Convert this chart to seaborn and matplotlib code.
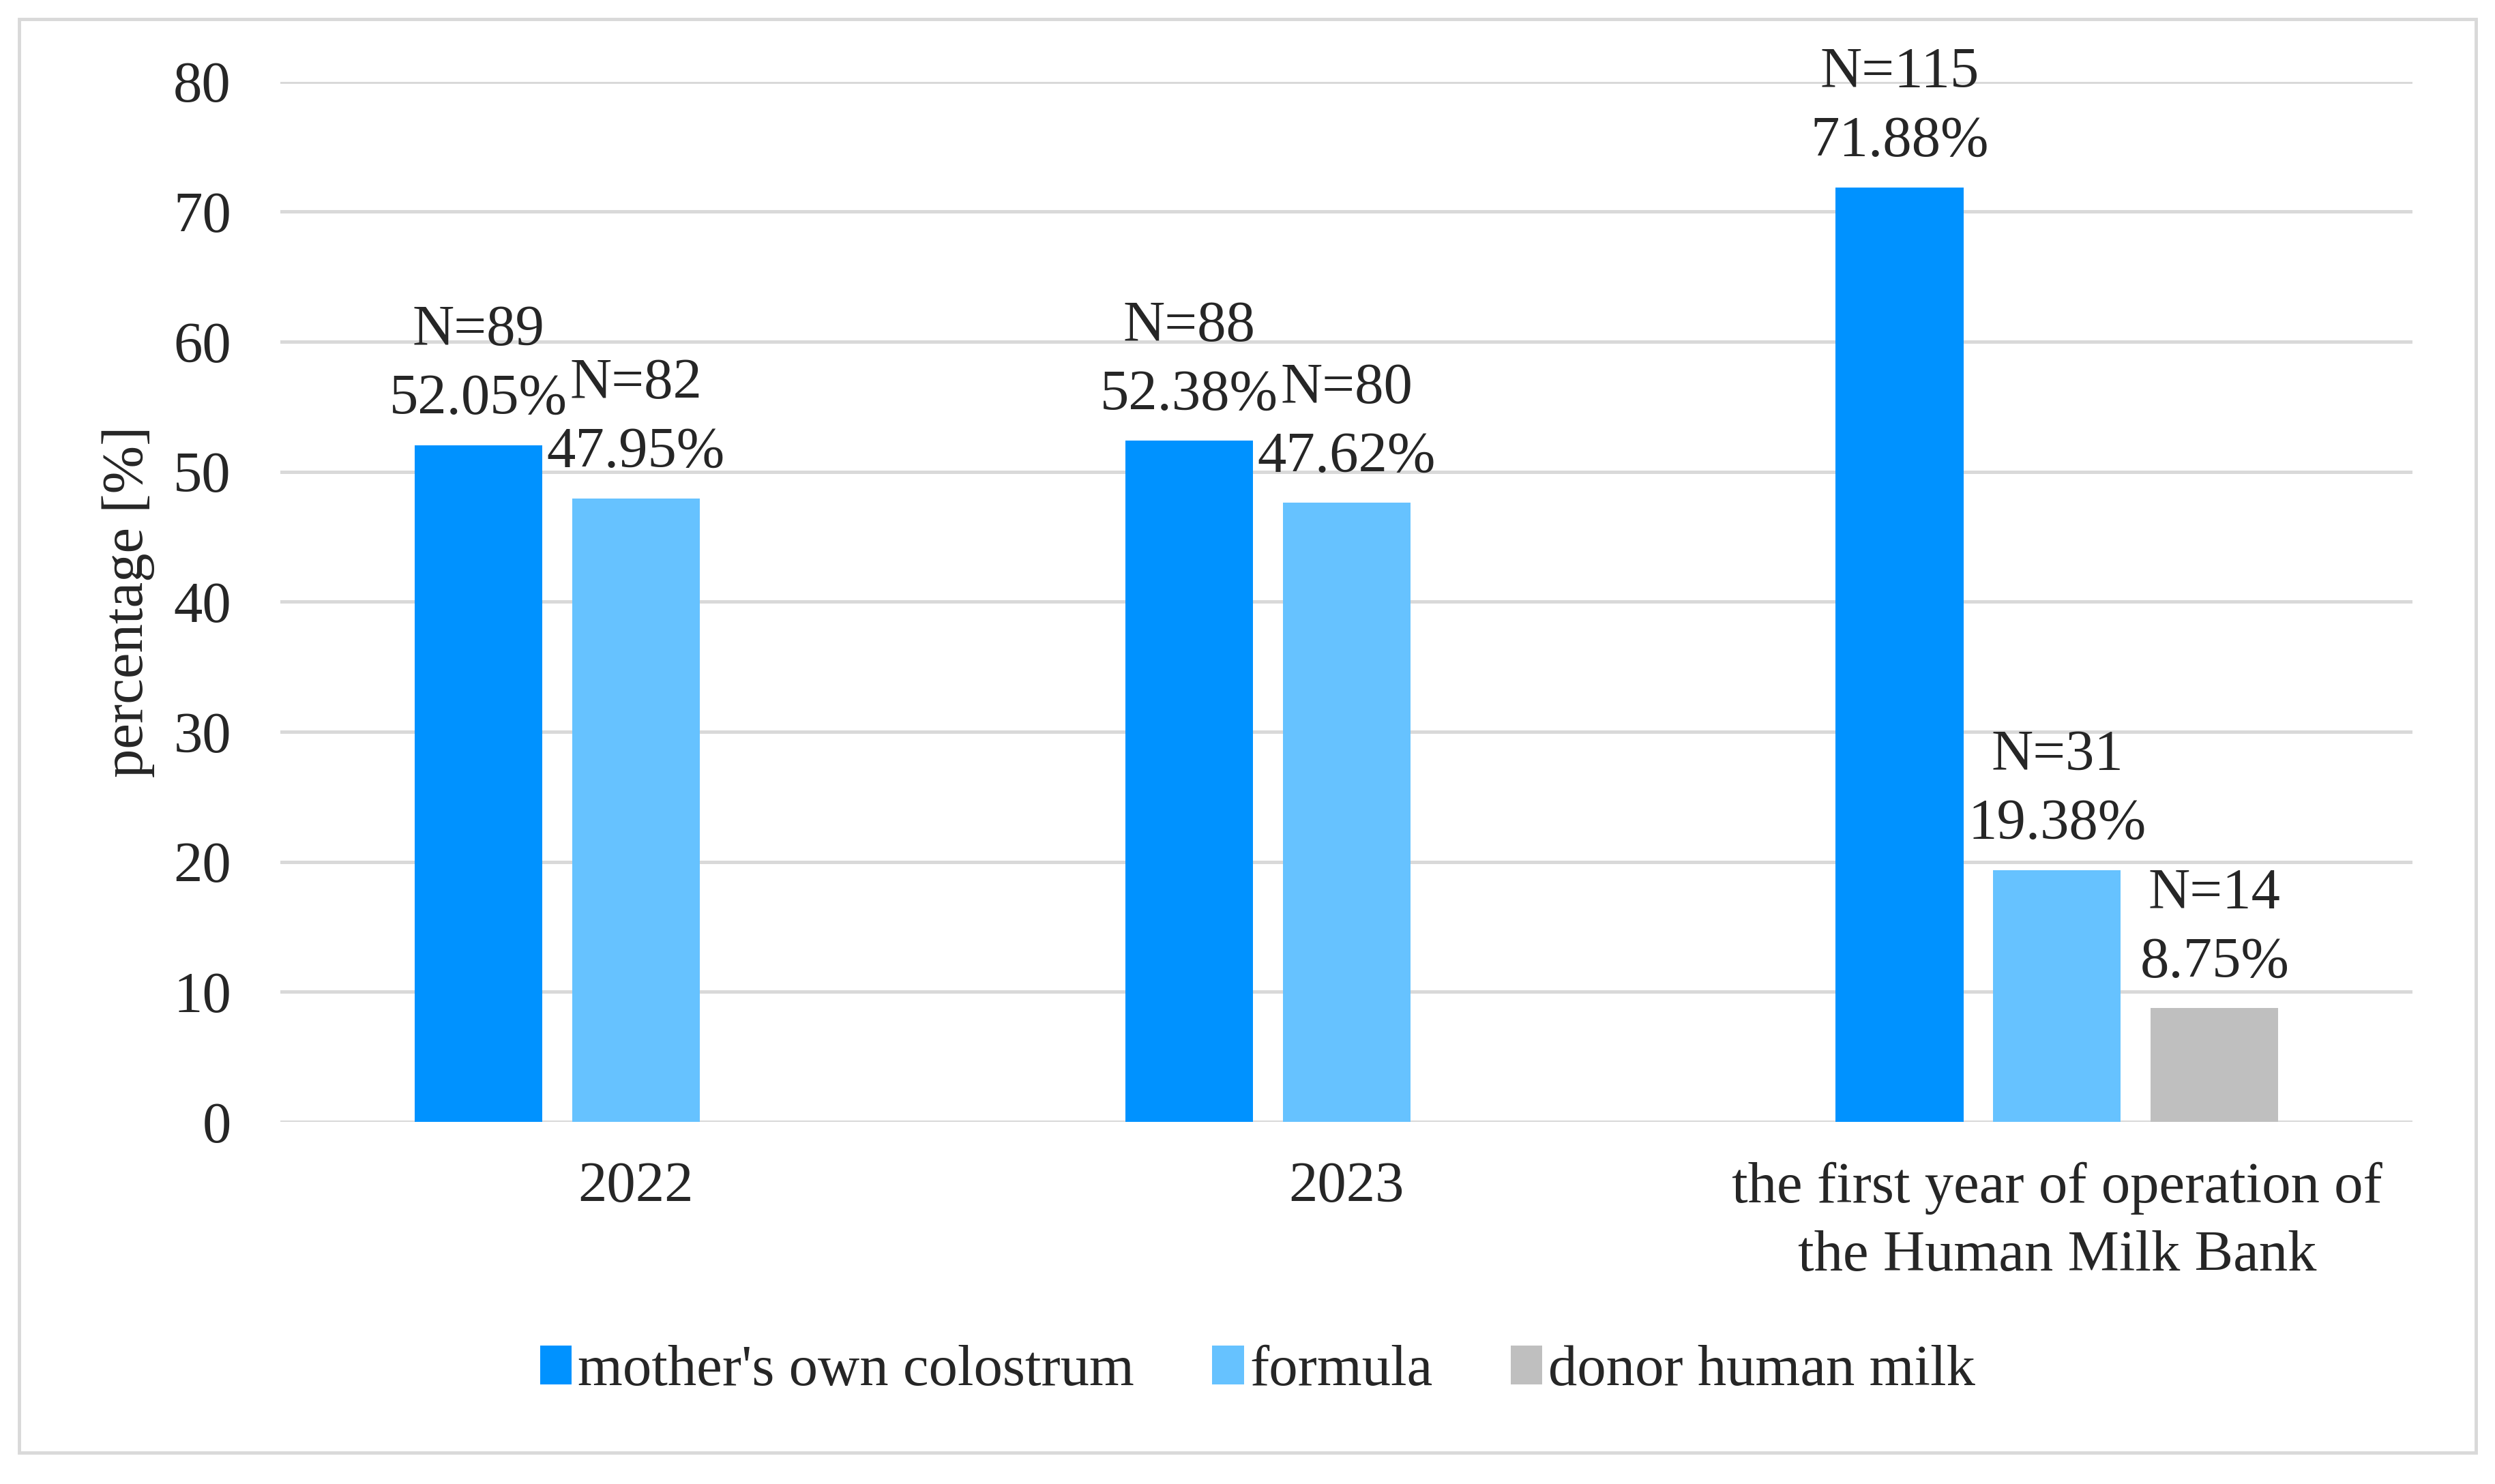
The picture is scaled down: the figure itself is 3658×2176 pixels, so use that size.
import pandas as pd
import seaborn as sns
import matplotlib.pyplot as plt
from matplotlib.patches import Rectangle

# data
periods = ["2022", "2023", "the first year of operation of\nthe Human Milk Bank"]
sources = ["mother's own colostrum", "formula", "donor human milk"]
colostrum_pct = [52.05, 52.38, 71.88]
colostrum_n = [89, 88, 115]
formula_pct = [47.95, 47.62, 19.38]
formula_n = [82, 80, 31]
donor_pct = [None, None, 8.75]
donor_n = [None, None, 14]

colors = ["#0092FF", "#66C2FF", "#BFBFBF"]

rows = []
for src, pcts, ns in zip(sources, [colostrum_pct, formula_pct, donor_pct],
                         [colostrum_n, formula_n, donor_n]):
    for period, p, n in zip(periods, pcts, ns):
        if p is not None:
            rows.append({"period": period, "source": src, "pct": p, "n": n})
df = pd.DataFrame(rows)
n_lookup = dict(zip(df["pct"], df["n"]))

sns.set_style("white")
plt.rcParams["font.family"] = ["Liberation Serif", "DejaVu Serif"]

FS = 61
fig = plt.figure(figsize=(36.58, 21.76), dpi=100)
ax = fig.add_axes([0.1124, 0.244, 0.9669 - 0.1124, 0.945 - 0.244])

sns.barplot(data=df, x="period", y="pct", hue="source",
            order=periods, hue_order=sources, palette=colors,
            width=0.665, gap=0.19, linewidth=0, saturation=1,
            errorbar=None, ax=ax)

for container in ax.containers:
    labels = [f"N={n_lookup[v]}\n{v:.2f}%" for v in container.datavalues]
    ax.bar_label(container, labels=labels, padding=20, fontsize=FS,
                 linespacing=1.4)

ax.set_ylim(0, 80)
ax.set_yticks(range(0, 81, 10))
ax.yaxis.grid(True, color="#d9d9d9", linewidth=3.6)
ax.set_axisbelow(True)
for side in ["top", "right", "left", "bottom"]:
    ax.spines[side].set_visible(False)
ax.tick_params(axis="y", length=0, pad=52, labelsize=FS)
ax.tick_params(axis="x", length=0, pad=42, labelsize=FS)
for lbl in ax.get_xticklabels():
    lbl.set_linespacing(1.4)

ax.set_xlabel("")
ax.set_ylabel("percentage [%]", fontsize=FS)
ax.yaxis.set_label_coords(-0.059, 0.5)

handles, lbls = ax.get_legend_handles_labels()
ax.legend_.remove()
fig.legend(handles, lbls, loc="center", bbox_to_anchor=(0.504, 0.076),
           ncol=3, frameon=False, fontsize=FS, handlelength=0.55,
           handleheight=0.65, handletextpad=0.1, columnspacing=1.35)

fig.patches.append(Rectangle((0.0077, 0.0211), 0.9846, 0.966,
                             transform=fig.transFigure, fill=False,
                             edgecolor="#d9d9d9", linewidth=3.5))

fig.savefig("out.png", dpi=100)
plt.close(fig)
